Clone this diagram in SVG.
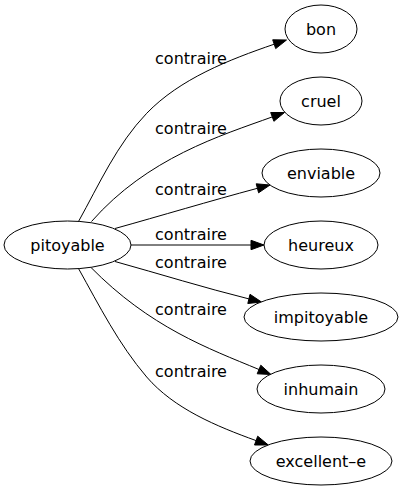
<svg xmlns="http://www.w3.org/2000/svg" width="403" height="491" viewBox="0 0 403 491">
<style>
.n ellipse{fill:#fff;stroke:#000;stroke-width:1}
text{font-family:"DejaVu Sans",Verdana,sans-serif;font-size:16px;fill:#000;text-anchor:middle}
.e path{fill:none;stroke:#000;stroke-width:1}
.e polygon{fill:#000;stroke:#000;stroke-width:1}
</style>
<rect width="403" height="491" fill="#fff"/>
<g id="edges" class="e">
<path d="M78.5,221.5 C99.2,184.3 117.1,144 146.7,113.3 C180.1,78.7 228.8,59.8 274.2,44.2"/>
<polygon points="286.5,40 275.7,48.6 272.7,39.8"/>
<text x="191" y="63.5">contraire</text>
<path d="M91.5,221.5 C147.6,157.75 220.6,135.6 272.3,116.9"/>
<polygon points="284.5,112.5 273.9,121.3 270.7,112.5"/>
<text x="191" y="133.5">contraire</text>
<path d="M115,228.5 C160,216 210,201 257.4,188.3"/>
<polygon points="270,185 258.6,192.8 256.2,183.8"/>
<text x="191" y="194.5">contraire</text>
<path d="M131,245 L251,245"/>
<polygon points="264,245 251,249.7 251,240.3"/>
<text x="191" y="240">contraire</text>
<path d="M115,261.5 C160,274 205,288 248.9,298.9"/>
<polygon points="261.5,302 247.8,303.5 250,294.3"/>
<text x="191" y="267.5">contraire</text>
<path d="M90.5,267 C150,327.4 208.2,348.4 259,369.5"/>
<polygon points="271,374.5 257.2,373.8 260.8,365.2"/>
<text x="191" y="315">contraire</text>
<path d="M78.5,268.5 C99.3,305.8 118.9,344.6 146.7,377 C174.1,408.8 216.6,426.3 256.1,440.6"/>
<polygon points="268.3,445 254.5,445 257.7,436.2"/>
<text x="191" y="377.3">contraire</text>
</g>
<g id="pitoyable" class="n"><ellipse cx="67.5" cy="245" rx="63.5" ry="24"/><text x="67.5" y="250.5">pitoyable</text></g>
<g id="bon" class="n"><ellipse cx="321" cy="29" rx="36" ry="24"/><text x="321" y="34.5">bon</text></g>
<g id="cruel" class="n"><ellipse cx="321" cy="101" rx="41" ry="24"/><text x="321" y="106.5">cruel</text></g>
<g id="enviable" class="n"><ellipse cx="321" cy="173" rx="59" ry="24"/><text x="321" y="178.5">enviable</text></g>
<g id="heureux" class="n"><ellipse cx="321" cy="245" rx="57" ry="24"/><text x="321" y="250.5">heureux</text></g>
<g id="impitoyable" class="n"><ellipse cx="321" cy="317" rx="77" ry="24"/><text x="321" y="322.5">impitoyable</text></g>
<g id="inhumain" class="n"><ellipse cx="321" cy="389" rx="64" ry="24"/><text x="321" y="394.5">inhumain</text></g>
<g id="excellent-e" class="n"><ellipse cx="321" cy="461" rx="71" ry="24"/><text x="321" y="466.5">excellent–e</text></g>
</svg>
